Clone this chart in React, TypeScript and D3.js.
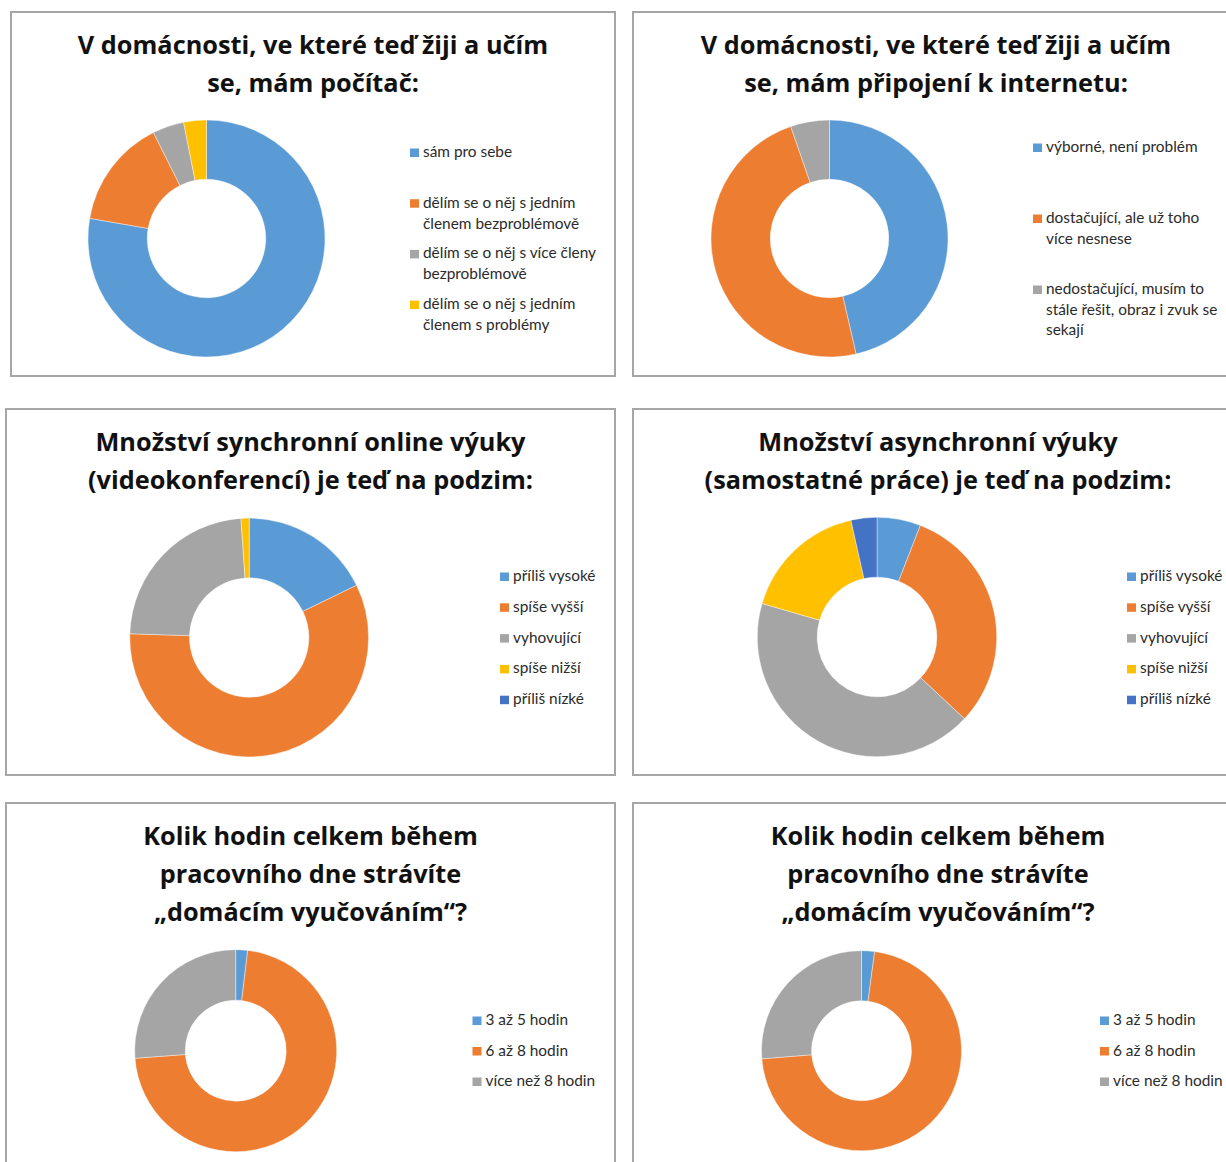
import React from "react";
import * as d3 from "d3";

// ---------- data ----------
const colors = ["#5B9BD5", "#ED7D31", "#A5A5A5", "#FFC000", "#4472C4"];

const computerTitle = ["V domácnosti, ve které teď žiji a učím", "se, mám počítač:"];
const computerLabels = [
  ["sám pro sebe"],
  ["dělím se o něj s jedním", "členem bezproblémově"],
  ["dělím se o něj s více členy", "bezproblémově"],
  ["dělím se o něj s jedním", "členem s problémy"],
];
const computerValues = [77.8, 14.9, 4.3, 3.1];

const internetTitle = ["V domácnosti, ve které teď žiji a učím", "se, mám připojení k internetu:"];
const internetLabels = [
  ["výborné, není problém"],
  ["dostačující, ale už toho", "více nesnese"],
  ["nedostačující, musím to", "stále řešit, obraz i zvuk se", "sekají"],
];
const internetValues = [46.4, 48.3, 5.3];

const syncTitle = ["Množství synchronní online výuky", "(videokonferencí) je teď na podzim:"];
const asyncTitle = ["Množství asynchronní výuky", "(samostatné práce) je teď na podzim:"];
const amountLabels = [["příliš vysoké"], ["spíše vyšší"], ["vyhovující"], ["spíše nižší"], ["příliš nízké"]];
const syncValues = [17.8, 57.7, 23.4, 1.1, 0];
const asyncValues = [5.9, 31.1, 42.6, 17.0, 3.5];

const hoursTitle = ["Kolik hodin celkem během", "pracovního dne strávíte", "„domácím vyučováním“?"];
const hoursLabels = [["3 až 5 hodin"], ["6 až 8 hodin"], ["více než 8 hodin"]];
const hoursValuesA = [1.9, 71.9, 26.2];
const hoursValuesB = [2.1, 71.6, 26.3];

// ---------- layout ----------
type Panel = {
  x: number; y: number; w: number; h: number;
  title: string[]; labels: string[][]; values: number[];
  cx: number; cy: number; r: number;
  lx: number; ly: number; lstep: number; lline: number;
};

const panels: Panel[] = [
  { x: 11, y: 12, w: 604, h: 364, title: computerTitle, labels: computerLabels, values: computerValues,
    cx: 206.5, cy: 238.5, r: 118.5, lx: 410, ly: 157, lstep: 50.7, lline: 21 },
  { x: 633, y: 12, w: 606, h: 364, title: internetTitle, labels: internetLabels, values: internetValues,
    cx: 829.5, cy: 238.5, r: 118.5, lx: 1033, ly: 152, lstep: 71, lline: 20.5 },
  { x: 6, y: 409, w: 609, h: 366, title: syncTitle, labels: amountLabels, values: syncValues,
    cx: 249.2, cy: 637.5, r: 119.4, lx: 500, ly: 581, lstep: 30.8, lline: 20 },
  { x: 633, y: 409, w: 610, h: 366, title: asyncTitle, labels: amountLabels, values: asyncValues,
    cx: 877, cy: 637, r: 119.7, lx: 1127, ly: 581, lstep: 30.8, lline: 20 },
  { x: 6, y: 803, w: 609, h: 380, title: hoursTitle, labels: hoursLabels, values: hoursValuesA,
    cx: 235.7, cy: 1050.7, r: 101, lx: 472.5, ly: 1025, lstep: 30.5, lline: 20 },
  { x: 633, y: 803, w: 610, h: 380, title: hoursTitle, labels: hoursLabels, values: hoursValuesB,
    cx: 861.5, cy: 1050.7, r: 100, lx: 1100, ly: 1025, lstep: 30.5, lline: 20 },
];

const titleFont = "'Open Sans', Lato, sans-serif";
const legendFont = "Lato, 'Open Sans', sans-serif";

function Donut({ p }: { p: Panel }) {
  const pie = d3.pie<number>().sort(null).value((d) => d);
  const arc = d3.arc<d3.PieArcDatum<number>>().innerRadius(p.r * 0.5).outerRadius(p.r);
  const arcs = pie(p.values);
  return (
    <g transform={`translate(${p.cx},${p.cy})`}>
      {arcs.map((a, i) =>
        a.value > 0 ? <path key={i} d={arc(a) || ""} fill={colors[i]} stroke="#fff" strokeWidth={0.4} /> : null
      )}
    </g>
  );
}

function PanelView({ p }: { p: Panel }) {
  const tcx = p.x + p.w / 2;
  return (
    <g>
      <rect x={p.x} y={p.y} width={p.w} height={p.h} fill="#fff" stroke="#a6a6a6" strokeWidth={2} />
      {p.title.map((t, i) => (
        <text key={i} x={tcx} y={p.y + 42 + i * 38} textAnchor="middle" fontFamily={titleFont}
          fontWeight={700} fontSize={25.3} fill="#111">
          {t}
        </text>
      ))}
      <Donut p={p} />
      {p.labels.map((lines, i) => {
        const by = p.ly + i * p.lstep;
        return (
          <g key={i}>
            <rect x={p.lx} y={by - 8.5} width={9} height={8.5} fill={colors[i]} />
            {lines.map((ln, j) => (
              <text key={j} x={p.lx + 13} y={by + j * p.lline} fontFamily={legendFont}
                fontSize={15.4} fill="#2b2b2b">
                {ln}
              </text>
            ))}
          </g>
        );
      })}
    </g>
  );
}

export default function App() {
  return (
    <svg width={1226} height={1162} style={{ position: "absolute", left: 0, top: 0, background: "#fff" }}>
      <rect x={0} y={0} width={1226} height={1162} fill="#fff" />
      {panels.map((p, i) => (
        <PanelView key={i} p={p} />
      ))}
    </svg>
  );
}
